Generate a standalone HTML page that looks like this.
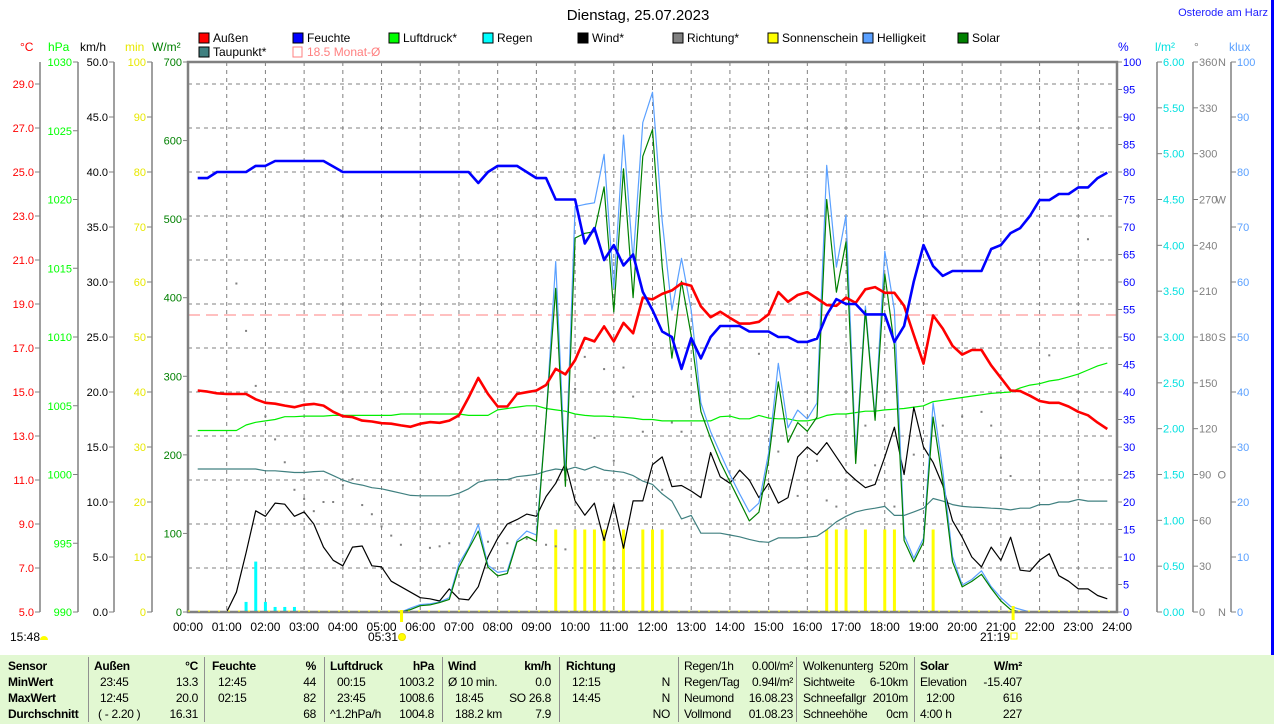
<!DOCTYPE html>
<html><head><meta charset="utf-8">
<style>
html,body{margin:0;padding:0;background:#fff;width:1274px;height:724px;overflow:hidden;font-family:"Liberation Sans",Arial,sans-serif;}
svg{position:absolute;left:0;top:0;}
#tbl{position:absolute;left:0;top:655px;width:1274px;height:69px;background:#e2f8d2;font-size:12px;letter-spacing:-0.3px;color:#000;}
#tbl span{position:absolute;white-space:nowrap;}
#tbl .b{font-weight:bold;}
#tbl .sep{position:absolute;top:2px;width:1px;height:65px;background:#909090;}
</style></head><body>
<svg id="chart" width="1274" height="724" font-family="Liberation Sans, Arial, sans-serif">
 <text x="638" y="20" font-size="15" text-anchor="middle">Dienstag, 25.07.2023</text>
 <text x="1268" y="16" font-size="11" fill="#2020ff" text-anchor="end">Osterode am Harz</text>
 <rect x="1271" y="0" width="3" height="655" fill="#0000ff"/>
 <g font-size="12">
  <g><rect x="199" y="33" width="10" height="10" fill="#ff0000" stroke="#000"/><text x="213" y="42">Außen</text></g>
  <g><rect x="293" y="33" width="10" height="10" fill="#0000ff" stroke="#000"/><text x="307" y="42">Feuchte</text></g>
  <g><rect x="389" y="33" width="10" height="10" fill="#00ff00" stroke="#000"/><text x="403" y="42">Luftdruck*</text></g>
  <g><rect x="483" y="33" width="10" height="10" fill="#00ffff" stroke="#000"/><text x="497" y="42">Regen</text></g>
  <g><rect x="578" y="33" width="10" height="10" fill="#000" stroke="#000"/><text x="592" y="42">Wind*</text></g>
  <g><rect x="673" y="33" width="10" height="10" fill="#808080" stroke="#000"/><text x="687" y="42">Richtung*</text></g>
  <g><rect x="768" y="33" width="10" height="10" fill="#ffff00" stroke="#000"/><text x="782" y="42">Sonnenschein</text></g>
  <g><rect x="863" y="33" width="10" height="10" fill="#5aa0ff" stroke="#000"/><text x="877" y="42">Helligkeit</text></g>
  <g><rect x="958" y="33" width="10" height="10" fill="#008000" stroke="#000"/><text x="972" y="42">Solar</text></g>
  <g><rect x="199" y="47" width="10" height="10" fill="#408080" stroke="#000"/><text x="213" y="56">Taupunkt*</text></g>
  <g><rect x="293" y="47" width="9" height="10" fill="none" stroke="#ff8080"/><text x="307" y="56" fill="#ff8080">18.5 Monat-Ø</text></g>
 </g>
 <g font-size="12">
  <text x="20" y="51" fill="#ff0000">°C</text>
  <text x="48" y="51" fill="#00ff00">hPa</text>
  <text x="80" y="51" fill="#000">km/h</text>
  <text x="125" y="51" fill="#e8e800">min</text>
  <text x="152" y="51" fill="#008000">W/m²</text>
  <text x="1118" y="51" fill="#0000ff">%</text>
  <text x="1155" y="51" fill="#00e0e0">l/m²</text>
  <text x="1194" y="51" fill="#808080">°</text>
  <text x="1229" y="51" fill="#5aa0ff">klux</text>
 </g>
 <g id="grid"></g>
 <g id="axes"></g>
 <g id="marks"></g>
 <g font-size="12">
  <text x="10" y="641">15:48</text>
  <path d="M40 640 a4 4 0 0 1 8 0 z" fill="#ffff00"/>
  <text x="368" y="641">05:31</text>
  <circle cx="402" cy="637" r="3.5" fill="#ffff00" stroke="#f0e000"/>
  <text x="980" y="641">21:19</text>
  <rect x="1011" y="633" width="6" height="6" fill="none" stroke="#ffff00"/>
 </g>
</svg>

<div id="tbl">
 <div class="sep" style="left:88px"></div><div class="sep" style="left:204px"></div><div class="sep" style="left:324px"></div><div class="sep" style="left:442px"></div><div class="sep" style="left:559px"></div><div class="sep" style="left:678px"></div><div class="sep" style="left:796px"></div><div class="sep" style="left:914px"></div>
 <span class="b" style="left:8px;top:4px">Sensor</span>
 <span class="b" style="left:8px;top:20px">MinWert</span>
 <span class="b" style="left:8px;top:36px">MaxWert</span>
 <span class="b" style="left:8px;top:52px">Durchschnitt</span>
 <span class="b" style="left:94px;top:4px">Außen</span><span class="b" style="right:1076px;top:4px">°C</span>
 <span style="left:100px;top:20px">23:45</span><span style="right:1076px;top:20px">13.3</span>
 <span style="left:100px;top:36px">12:45</span><span style="right:1076px;top:36px">20.0</span>
 <span style="left:98px;top:52px">( - 2.20 )</span><span style="right:1076px;top:52px">16.31</span>
 <span class="b" style="left:212px;top:4px">Feuchte</span><span class="b" style="right:958px;top:4px">%</span>
 <span style="left:218px;top:20px">12:45</span><span style="right:958px;top:20px">44</span>
 <span style="left:218px;top:36px">02:15</span><span style="right:958px;top:36px">82</span>
 <span style="right:958px;top:52px">68</span>
 <span class="b" style="left:330px;top:4px">Luftdruck</span><span class="b" style="right:840px;top:4px">hPa</span>
 <span style="left:337px;top:20px">00:15</span><span style="right:840px;top:20px">1003.2</span>
 <span style="left:337px;top:36px">23:45</span><span style="right:840px;top:36px">1008.6</span>
 <span style="left:330px;top:52px">^1.2hPa/h</span><span style="right:840px;top:52px">1004.8</span>
 <span class="b" style="left:448px;top:4px">Wind</span><span class="b" style="right:723px;top:4px">km/h</span>
 <span style="left:448px;top:20px">Ø 10 min.</span><span style="right:723px;top:20px">0.0</span>
 <span style="left:455px;top:36px">18:45</span><span style="right:723px;top:36px">SO 26.8</span>
 <span style="left:455px;top:52px">188.2 km</span><span style="right:723px;top:52px">7.9</span>
 <span class="b" style="left:566px;top:4px">Richtung</span>
 <span style="left:572px;top:20px">12:15</span><span style="right:604px;top:20px">N</span>
 <span style="left:572px;top:36px">14:45</span><span style="right:604px;top:36px">N</span>
 <span style="right:604px;top:52px">NO</span>
 <span style="left:684px;top:4px">Regen/1h</span><span style="right:481px;top:4px">0.00l/m²</span>
 <span style="left:684px;top:20px">Regen/Tag</span><span style="right:481px;top:20px">0.94l/m²</span>
 <span style="left:684px;top:36px">Neumond</span><span style="right:481px;top:36px">16.08.23</span>
 <span style="left:684px;top:52px">Vollmond</span><span style="right:481px;top:52px">01.08.23</span>
 <span style="left:803px;top:4px">Wolkenunterg</span><span style="right:366px;top:4px">520m</span>
 <span style="left:803px;top:20px">Sichtweite</span><span style="right:366px;top:20px">6-10km</span>
 <span style="left:803px;top:36px">Schneefallgr</span><span style="right:366px;top:36px">2010m</span>
 <span style="left:803px;top:52px">Schneehöhe</span><span style="right:366px;top:52px">0cm</span>
 <span class="b" style="left:920px;top:4px">Solar</span><span class="b" style="right:252px;top:4px">W/m²</span>
 <span style="left:920px;top:20px">Elevation</span><span style="right:252px;top:20px">-15.407</span>
 <span style="left:926px;top:36px">12:00</span><span style="right:252px;top:36px">616</span>
 <span style="left:920px;top:52px">4:00 h</span><span style="right:252px;top:52px">227</span>
</div>

<script>
// ---- data (quarter-hour samples, index 1 = 00:15 ... 95 = 23:45) ----
const hourLabels = ["00:00","01:00","02:00","03:00","04:00","05:00","06:00","07:00","08:00","09:00","10:00","11:00","12:00","13:00","14:00","15:00","16:00","17:00","18:00","19:00","20:00","21:00","22:00","23:00","24:00"];
const tempTicks = [29,27,25,23,21,19,17,15,13,11,9,7,5];
const hpaTicks = [1030,1025,1020,1015,1010,1005,1000,995,990];
const kmhTicks = [50,45,40,35,30,25,20,15,10,5,0];
const minTicks = [100,90,80,70,60,50,40,30,20,10,0];
const wTicks = [700,600,500,400,300,200,100,0];
const pctTicks = [100,95,90,85,80,75,70,65,60,55,50,45,40,35,30,25,20,15,10,5,0];
const rainTicks = [6,5.5,5,4.5,4,3.5,3,2.5,2,1.5,1,0.5,0];
const dirTicks = [360,330,300,270,240,210,180,150,120,90,60,30,0];
const dirLetters = {360:"N",270:"W",180:"S",90:"O",0:"N"};
const kluxTicks = [100,90,80,70,60,50,40,30,20,10,0];

const tempAussen = [15.07,15.02,14.94,14.91,14.91,14.91,14.67,14.51,14.47,14.38,14.31,14.42,14.46,14.38,14.1,13.9,13.86,13.7,13.66,13.58,13.56,13.48,13.42,13.56,13.63,13.6,13.7,13.94,14.75,15.64,14.91,14.34,14.34,14.91,14.99,15.07,15.32,16.05,15.8,16.45,17.46,17.3,17.98,17.3,18.14,17.67,19.29,19.21,19.46,19.62,19.94,19.83,18.89,18.4,18.65,18.37,18.11,18.11,18.19,18.53,19.54,19.1,19.41,19.54,19.25,18.95,18.92,19.29,19.05,19.67,19.77,19.51,19.51,18.92,17.59,16.29,18.48,17.88,17.1,16.7,16.91,16.91,16.21,15.64,15.07,15.04,14.83,14.59,14.51,14.51,14.34,14.1,13.94,13.61,13.32];
const humidity = [78.9,78.9,80,80,80,80,81.1,81.1,82,82,82,82,82,82,81,80,80,80,80,80,80,80,80,80,80,80,80,80,80,78,80,81.1,81.1,81.1,80,78.9,78.9,75,75,75,67,69.8,64,66.7,63,65,58.2,54.9,51,50,44.2,49.8,46.1,50,52,52,52,51,51,51,50,50,49.1,49.1,49.7,54,56.9,56,56,54.1,54.1,54.1,49.1,52,60.1,66.7,62.9,61.1,62,62,62,62,66,66.7,68.9,69.8,72,74.9,74.9,76,76,77.2,77.2,78.9,79.9];
const pressure = [1003.2,1003.2,1003.2,1003.2,1003.2,1003.6,1003.8,1003.9,1004.0,1004.2,1004.2,1004.25,1004.25,1004.25,1004.3,1004.3,1004.3,1004.3,1004.3,1004.3,1004.3,1004.4,1004.4,1004.4,1004.4,1004.4,1004.4,1004.4,1004.3,1004.3,1004.3,1004.7,1004.8,1004.9,1005.0,1005.0,1004.8,1004.7,1004.6,1004.4,1004.3,1004.25,1004.25,1004.2,1004.15,1004.1,1004.0,1004.0,1003.9,1003.9,1003.9,1003.9,1003.9,1003.9,1004.2,1004.25,1004.05,1004.05,1004.3,1004.1,1004.05,1004.05,1003.9,1003.9,1004.05,1004.3,1004.4,1004.4,1004.5,1004.6,1004.6,1004.7,1004.75,1004.8,1004.9,1005.0,1005.3,1005.4,1005.5,1005.6,1005.7,1005.8,1005.9,1005.95,1006.0,1006.3,1006.5,1006.6,1006.8,1006.9,1007.1,1007.3,1007.6,1007.9,1008.1];
const dewpoint = [11.5,11.5,11.5,11.5,11.5,11.5,11.5,11.42,11.42,11.38,11.34,11.34,11.38,11.4,11.2,11.0,10.85,10.77,10.65,10.6,10.5,10.4,10.3,10.28,10.28,10.28,10.28,10.4,10.6,10.9,11.0,11.02,11.02,11.15,11.2,11.26,11.4,11.5,11.45,11.58,11.45,11.62,11.45,11.4,11.35,11.2,10.95,10.8,10.37,10.04,9.23,9.39,8.58,8.58,8.58,8.5,8.42,8.3,8.2,8.17,8.37,8.37,8.37,8.4,8.45,8.74,9.1,9.35,9.55,9.65,9.72,9.8,9.39,9.39,9.55,9.72,10.16,10.04,9.88,9.8,9.77,9.75,9.72,9.7,9.64,9.72,9.72,9.88,9.88,10.0,10.0,10.12,10.04,10.04,10.04];
const wind = [null,null,null,0,1.8,5.4,9.2,8.7,9.9,9.8,8.7,9.1,8.0,5.9,4.7,4.2,5.9,6.0,4.2,4.1,2.8,2.3,1.8,1.3,1.2,1.0,2.1,1.2,1.1,2.3,5.0,6.7,8.0,8.4,8.9,8.7,10.5,11.7,13.5,10.1,8.8,9.9,6.5,9.8,5.8,10.1,10.1,13.4,14.1,11.4,11.5,11.0,10.4,14.5,12.3,11.7,12.9,12.0,10.4,11.7,9.9,10.4,14.1,15.0,14.3,15.4,14.1,12.8,12.0,11.3,11.6,14.1,16.8,12.5,18.6,15.0,13.6,11.5,8.3,6.8,5.0,4.1,5.9,4.7,6.8,3.8,3.7,4.7,5.3,3.3,2.8,2.1,2.1,1.5,1.2];
const solar = [null,null,null,null,null,null,null,null,null,null,null,null,null,null,null,null,null,null,null,null,null,0,3,8,9,12,16,57,80,103,57,46,49,89,96,90,248,412,160,476,482,484,541,382,564,400,580,614,439,323,421,352,255,221,191,166,141,116,127,193,293,216,241,230,248,525,407,471,189,384,244,430,339,91,64,89,248,166,64,32,39,48,30,14,3,0,null,null,null,null,null,null,null,null,null];
const lux = [null,null,null,null,null,null,null,null,null,null,null,null,null,null,null,null,null,null,null,null,null,0,0.7,1.35,1.5,1.8,2.6,8.8,11.7,15.9,8.5,7.2,7.5,13.0,14.7,14.0,35.4,63.7,24.7,73.7,74.1,74.4,83.2,58.8,86.7,64,89,94.5,71.1,54.9,64.3,54.9,38.0,32.8,28.9,25.0,21.5,18.2,19.8,28.9,45.2,33.5,36.7,35.1,38.0,81.2,62.7,72.1,28.5,55.6,35.4,65.6,54.9,14.0,9.8,13.4,38.0,25.7,10.1,4.9,5.9,7.5,4.6,2.6,1.0,0.5,0,null,null,null,null,null,null,null,null];
const rainQuarter = [6,7,8,9,10,11];
const rainValues = [0.11,0.55,0.11,0.055,0.055,0.055];
const sunQuarter = [38,40,41,42,43,45,47,48,49,66,67,68,70,72,73,77];
const sunMinutes = [15,15,15,15,15,15,15,15,15,15,15,15,15,15,15,15];
const dirQuarter = [5,6,7,8,9,10,11,12,13,14,15,16,17,18,19,20,21,22,25,26,27,31,33,35,37,38,39,40,41,42,43,44,45,46,47,49,50,51,59,61,63,65,66,67,70,71,73,75,78,80,82,83,84,85,89,93];
const dirValues = [215,184,148,128,113,98,80,74,66,72,72,83,87,70,64,56,50,44,42,43,45,46,45,48,44,43,41,146,167,114,159,99,160,141,118,80,124,118,169,105,76,99,73,69,122,96,69,103,122,128,131,122,101,89,168,244];
const monthAvg = 18.5;

// ---- scales ----
const X0=188, X1=1117, Y0=62, Y1=612;
const xq = i => X0 + i*(X1-X0)/96;
const xh = h => X0 + h*(X1-X0)/24;
const yT = t => Y1 - (t-5)*(Y1-Y0)/25;
const yH = h => Y1 - h*(Y1-Y0)/100;
const yP = p => Y1 - (p-990)*(Y1-Y0)/40;
const yW = w => Y1 - w*(Y1-Y0)/50;
const yM = m => Y1 - m*(Y1-Y0)/100;
const yS = s => Y1 - s*(Y1-Y0)/700;
const yL = l => Y1 - l*(Y1-Y0)/100;
const yR = r => Y1 - r*(Y1-Y0)/6;
const yD = d => Y1 - d*(Y1-Y0)/360;

const NS="http://www.w3.org/2000/svg";
function mk(tag, parent, attrs){const e=document.createElementNS(NS,tag);for(const k in attrs)e.setAttribute(k,attrs[k]);parent.appendChild(e);return e;}
const grid=document.getElementById('grid'), axes=document.getElementById('axes'), marks=document.getElementById('marks');
const TF=11;

for(let h=1;h<24;h++){const l=mk('line',grid,{x1:xh(h),x2:xh(h),y1:Y0,y2:Y1,stroke:'#808080','stroke-dasharray':'4,4'});

}
tempTicks.forEach(t=>{const l=mk('line',grid,{x1:X0,x2:X1,y1:yT(t),y2:yT(t),stroke:'#808080','stroke-dasharray':'4,4'});

});

function leftAxis(lineX, ticks, yf, fmt, color, name){
  const g=mk('g',axes,{});
  
  
  mk('line',g,{x1:lineX,x2:lineX,y1:Y0,y2:Y1,stroke:'#808080','stroke-width':1.5});
  ticks.forEach(v=>{const y=yf(v);
    mk('line',g,{x1:lineX-5,x2:lineX,y1:y,y2:y,stroke:'#808080'});
    const t=mk('text',g,{x:lineX-6,y:y+4,'font-size':TF,fill:color,'text-anchor':'end'});
    t.textContent=fmt(v);});
}
leftAxis(40,tempTicks,yT,v=>v.toFixed(1),'#ff0000','axis-temperature');
leftAxis(78,hpaTicks,yP,v=>String(v),'#00ff00','axis-pressure');
leftAxis(114,kmhTicks,yW,v=>v.toFixed(1),'#000','axis-wind');
leftAxis(152,minTicks,yM,v=>String(v),'#e8e800','axis-sunshine');
leftAxis(188,wTicks,yS,v=>String(v),'#008000','axis-solar');

function rightAxis(lineX, ticks, yf, fmt, color, name, drawLine){
  const g=mk('g',axes,{});
  
  
  if(drawLine) mk('line',g,{x1:lineX,x2:lineX,y1:Y0,y2:Y1,stroke:'#808080','stroke-width':1.5});
  ticks.forEach(v=>{const y=yf(v);
    mk('line',g,{x1:lineX,x2:lineX+5,y1:y,y2:y,stroke:'#808080'});
    const t=mk('text',g,{x:lineX+6,y:y+4,'font-size':TF,fill:color});
    t.textContent=fmt(v);});
}
rightAxis(1117,pctTicks,yH,v=>String(v),'#0000ff','axis-humidity',false);
rightAxis(1157,rainTicks,yR,v=>v.toFixed(2),'#00e0e0','axis-rain',true);
rightAxis(1193,dirTicks,yD,v=>String(v),'#808080','axis-direction',true);
rightAxis(1231,kluxTicks,yL,v=>String(v),'#5aa0ff','axis-brightness',true);
dirTicks.forEach(v=>{ if(dirLetters[v]!==undefined){const t=mk('text',axes,{x:1226,y:yD(v)+4,'font-size':TF,fill:'#808080','text-anchor':'end'});
 
 
 t.textContent=dirLetters[v];}});

hourLabels.forEach((s,h)=>{const t=mk('text',axes,{x:xh(h),y:631,'font-size':12,'text-anchor':'middle'});
 
 
 t.textContent=s;});

const ma=mk('line',marks,{x1:X0,x2:X1,y1:yT(monthAvg),y2:yT(monthAvg),stroke:'#ff8080','stroke-dasharray':'12,6'});



rainQuarter.forEach((q,k)=>{const y=yR(rainValues[k]);
 const r=mk('rect',marks,{x:xq(q)-1.5,y:y,width:3,height:Y1-y,fill:'#00ffff'});
 
 });
sunQuarter.forEach((q,k)=>{const y=yM(sunMinutes[k]);
 const r=mk('rect',marks,{x:xq(q)-1.5,y:y,width:3,height:Y1-y,fill:'#ffff00'});
 
 });
dirQuarter.forEach((q,k)=>{const c=mk('rect',marks,{x:xq(q)-1,y:yD(dirValues[k])-1,width:2,height:2,fill:'#808080'});
 
 });

function series(arr, yf, color, width, name){
  let d='', pen=false;
  arr.forEach((v,k)=>{ if(v===null){pen=false;return;} const x=xq(k+1), y=yf(v); d+=(pen?'L':'M')+x.toFixed(1)+' '+y.toFixed(1)+' '; pen=true;});
  const p=mk('path',marks,{d:d,fill:'none',stroke:color,'stroke-width':width,'stroke-linejoin':'round'});
  
  
}
series(pressure,yP,'#00ee00',1.2,'pressure-line');
series(dewpoint,yT,'#408080',1.2,'dewpoint-line');
series(wind,yW,'#000',1.2,'wind-line');
series(lux,yL,'#5aa0ff',1.2,'brightness-line');
series(solar,yS,'#008000',1.2,'solar-line');
series(tempAussen,yT,'#ff0000',2.6,'temperature-line');
series(humidity,yH,'#0000ff',2.6,'humidity-line');

const fr=mk('path',marks,{d:`M${X0} ${Y1} V${Y0} H${X1} V${Y1} Z`,fill:'none',stroke:'#808080','stroke-width':2.5});


const yl=mk('line',marks,{x1:X0,x2:X1,y1:Y1-1,y2:Y1-1,stroke:'#ffff00','stroke-dasharray':'2,8'});


const sr=mk('rect',marks,{x:xh(5+31/60)-1.5,y:Y1-2,width:3,height:12,fill:'#ffff00'});


const ss=mk('rect',marks,{x:xh(21+19/60)-1.5,y:Y1-6,width:3,height:14,fill:'#ffff00'});


</script>
</body></html>
